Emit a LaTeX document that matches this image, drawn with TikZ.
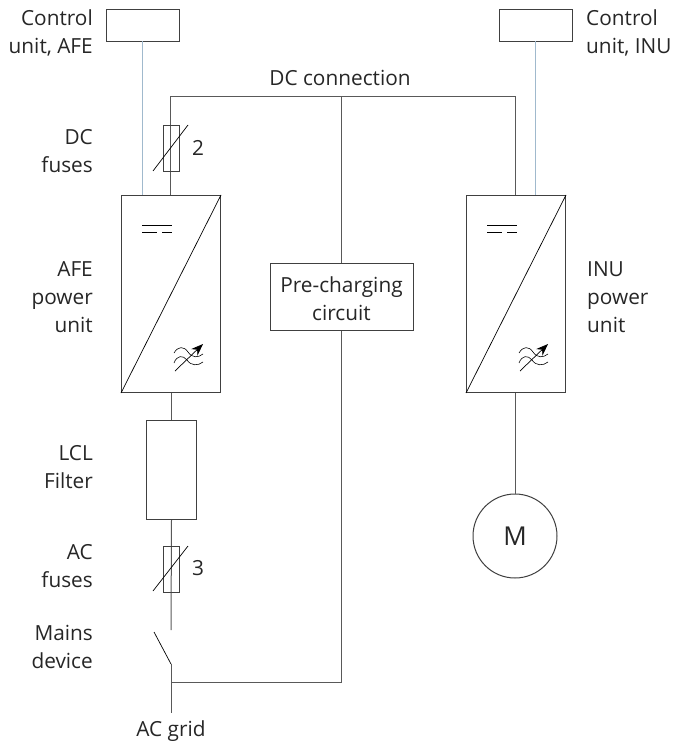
\documentclass[tikz,border=0pt]{standalone}
\usepackage{fontspec}
\setmainfont{Open Sans}
\usetikzlibrary{arrows.meta}
\tikzset{
 x=1pt,y=-1pt,
 wire/.style={draw=black!65,line width=1pt},
 boxn/.style={draw=black!75,line width=1pt,fill=white,inner sep=0pt,anchor=north west},
 lbl/.style={font=\fontsize{20.8}{28}\selectfont,text=black!85,align=center,inner sep=0pt},
 thin1/.style={draw=black,line width=.7pt},
}
\definecolor{ctlblue}{RGB}{160,185,205}
\newcommand{\conv}[1]{%
 \draw[thin1] (#1.south west) -- (#1.north east);
 \path (#1.north west) ++(21,30) coordinate (#1a) ++(30,0) coordinate (#1b)
  (#1a) ++(0,7) coordinate (#1c) ++(15,0) coordinate (#1d) ++(5,0) coordinate (#1e) ++(10,0) coordinate (#1f);
 \draw[thin1] (#1a) -- (#1b) (#1c) -- (#1d) (#1e) -- (#1f);
 \path (#1.south east) ++(-47,-50) coordinate (#1o);
 \begin{scope}[shift={(#1o)}]
  \draw[thin1,line width=.6pt] (0,10) .. controls (4,3) and (10,3) .. (14,9) .. controls (18,15) and (24,15) .. (29,11);
  \draw[thin1,line width=.6pt] (0,20) .. controls (3,12) and (9,12) .. (13,17) .. controls (17,23) and (24,23) .. (29,19);
  \coordinate (#1p) at (1,28);
  \coordinate (#1q) at (29,1);
 \end{scope}
 \draw[thin1,-{Stealth[length=12pt,width=9pt]}] (#1p) -- (#1q);
}
\begin{document}
\begin{tikzpicture}
\useasboundingbox (0,0) rectangle (673,746);
\node[boxn,minimum width=73.5,minimum height=32] (cafe) at (105.5,9) {};
\node[boxn,minimum width=73,minimum height=32] (cinu) at (499,9) {};
\node[boxn,minimum width=99,minimum height=197] (afe) at (121,195) {};
\node[boxn,minimum width=99,minimum height=197] (inu) at (466,195) {};
\node[boxn,minimum width=143,minimum height=67] (pre) at (270,263) {};
\node[lbl] at (341.5,299) {Pre-charging\\circuit};
\node[boxn,minimum width=50,minimum height=99] (lcl) at (146,420) {};
\node[draw=black!75,line width=1pt,circle,minimum size=84,inner sep=0pt,font=\fontsize{26}{26}\selectfont,text=black!85] (m) at (515,536) {M};
\coordinate (ctop) at (341,97);
\coordinate (tl) at (170.5,97);
\coordinate (tr) at (515,97);
\coordinate (bot) at (171,682);
\coordinate (cbot) at (341,682);
\coordinate (sw1) at (171,630);
\coordinate (sw2) at (171,664);
\coordinate (sw3) at (154,632);
\coordinate (grid) at (171,713);
% wires
\draw[draw=ctlblue,line width=1pt] (142.5,41) -- (142.5,195);
\draw[draw=ctlblue,line width=1pt] (535.5,41) -- (535.5,195);
\draw[wire] (tl |- afe.north) -- (tl) -- (tr) -- (tr |- inu.north);
\draw[wire] (ctop) -- (pre.north -| ctop);
\draw[wire] (pre.south -| ctop) -- (cbot) -- (bot);
\draw[wire] (afe.south -| lcl.north) -- (lcl.north);
\draw[wire] (lcl.south) -- (sw1);
\draw[wire] (sw2) -- (grid);
\draw[thin1] (sw2) -- (sw3);
\draw[wire] (inu.south -| m.north) -- (m.north);
% fuses
\node[draw=black!75,line width=.8pt,inner sep=0pt,minimum width=16,minimum height=46,anchor=north west] (f2) at (163,125) {};
\node[draw=black!75,line width=.8pt,inner sep=0pt,minimum width=16,minimum height=46,anchor=north west] (f3) at (163,546) {};
\draw[thin1] (153,171) -- (188,125);
\draw[thin1] (153,591) -- (188,546);
\conv{afe}
\conv{inu}
% labels
\node[lbl,align=right,anchor=east] at (93,33) {Control\\unit, AFE};
\node[lbl,align=left,anchor=west] at (586,33) {Control\\unit, INU};
\node[lbl] at (340,78) {DC connection};
\node[lbl,align=right,anchor=east] at (93,151) {DC\\fuses};
\node[lbl] at (198,148) {2};
\node[lbl] at (198,568) {3};
\node[lbl,align=right,anchor=east] at (93,297) {AFE\\power\\unit};
\node[lbl,align=left,anchor=west] at (587,297) {INU\\power\\unit};
\node[lbl,align=right,anchor=east] at (93,467.5) {LCL\\Filter};
\node[lbl,align=right,anchor=east] at (93,566) {AC\\fuses};
\node[lbl,align=right,anchor=east] at (93,647) {Mains\\device};
\node[lbl] at (171,731) {AC grid};
\end{tikzpicture}
\end{document}
